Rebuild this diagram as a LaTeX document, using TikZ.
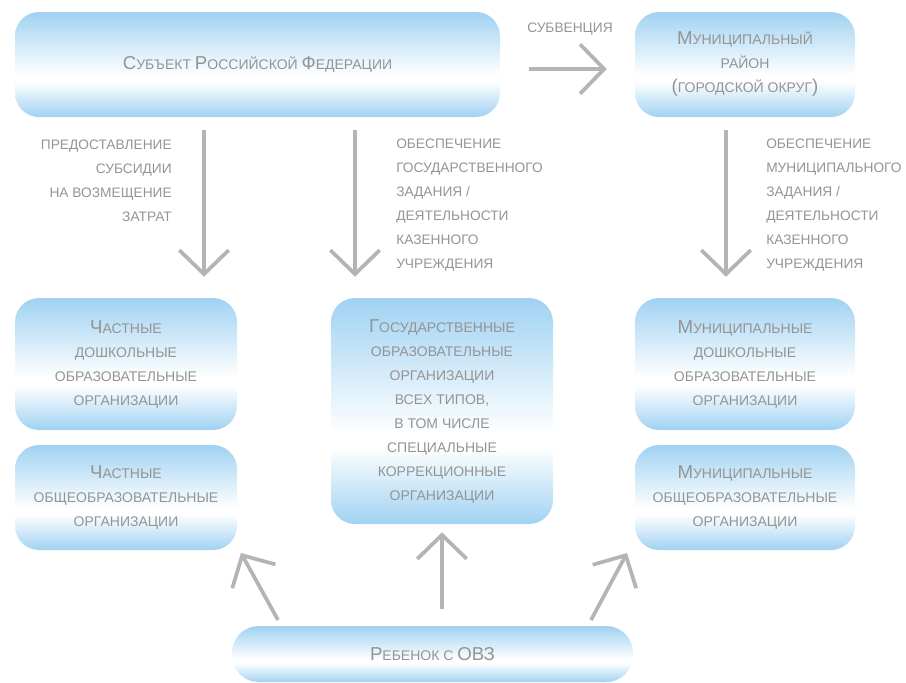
\documentclass[tikz,border=0pt]{standalone}
\usepackage{fontspec}
\setmainfont{Liberation Sans}
\usetikzlibrary{arrows.meta}
\definecolor{bx}{RGB}{160,210,242}
\definecolor{txt}{RGB}{148,148,148}
\definecolor{arrc}{RGB}{180,180,180}
\pgfdeclareverticalshading{boxsh}{100bp}{color(0bp)=(bx); color(25bp)=(bx); color(42bp)=(white); color(45bp)=(white); color(75bp)=(bx); color(100bp)=(bx)}
\newcommand\Ini[1]{{\fontsize{14}{18}\selectfont #1}}
\begin{document}
\begin{tikzpicture}[x=0.75pt,y=-0.75pt,
  box/.style={shading=boxsh, rounded corners=18pt, inner sep=0pt, align=center,
    text=txt, font=\fontsize{10.5}{18}\selectfont},
  lbl/.style={text=txt, font=\fontsize{10.3}{18}\selectfont, inner sep=0pt},
  conn/.style={draw=arrc, line width=2.8pt, -{Straight Barb[length=18pt,width=37pt]}}]
\useasboundingbox (0,0) rectangle (906,682);

% boxes
\node[box, minimum width=363.75pt, minimum height=78.75pt] (subj) at (257.5,64.5)
  {\Ini{С}УБЪЕКТ \Ini{Р}ОССИЙСКОЙ \Ini{Ф}ЕДЕРАЦИИ};
\node[box, minimum width=165pt, minimum height=78.75pt] (mun) at (745,64.5)
  {\Ini{М}УНИЦИПАЛЬНЫЙ\\РАЙОН\\\Ini{(}ГОРОДСКОЙ ОКРУГ\Ini{)}};
\node[box, minimum width=166.5pt, minimum height=99pt] (chd) at (126,364)
  {\Ini{Ч}АСТНЫЕ\\ДОШКОЛЬНЫЕ\\ОБРАЗОВАТЕЛЬНЫЕ\\ОРГАНИЗАЦИИ};
\node[box, minimum width=166.5pt, minimum height=78.75pt] (cho) at (126,497.5)
  {\Ini{Ч}АСТНЫЕ\\ОБЩЕОБРАЗОВАТЕЛЬНЫЕ\\ОРГАНИЗАЦИИ};
\node[box, minimum width=166.5pt, minimum height=169.5pt] (gos) at (442,411)
  {\Ini{Г}ОСУДАРСТВЕННЫЕ\\ОБРАЗОВАТЕЛЬНЫЕ\\ОРГАНИЗАЦИИ\\ВСЕХ ТИПОВ,\\В ТОМ ЧИСЛЕ\\СПЕЦИАЛЬНЫЕ\\КОРРЕКЦИОННЫЕ\\ОРГАНИЗАЦИИ};
\node[box, minimum width=165pt, minimum height=99pt] (mud) at (745,364)
  {\Ini{М}УНИЦИПАЛЬНЫЕ\\ДОШКОЛЬНЫЕ\\ОБРАЗОВАТЕЛЬНЫЕ\\ОРГАНИЗАЦИИ};
\node[box, minimum width=165pt, minimum height=78.75pt] (muo) at (745,497.5)
  {\Ini{М}УНИЦИПАЛЬНЫЕ\\ОБЩЕОБРАЗОВАТЕЛЬНЫЕ\\ОРГАНИЗАЦИИ};
\node[box, rounded corners=20pt, minimum width=300.75pt, minimum height=42pt] (reb) at (432.5,654)
  {\Ini{Р}ЕБЕНОК С \Ini{ОВЗ}};

% labels
\node[lbl] (lsub) at (570,29) {СУБВЕНЦИЯ};
\node[lbl, anchor=east, align=right] (l1) at (172,181)
  {ПРЕДОСТАВЛЕНИЕ\\СУБСИДИИ\\НА ВОЗМЕЩЕНИЕ\\ЗАТРАТ};
\node[lbl, anchor=west, align=left] (l2) at (396,205)
  {ОБЕСПЕЧЕНИЕ\\ГОСУДАРСТВЕННОГО\\ЗАДАНИЯ /\\ДЕЯТЕЛЬНОСТИ\\КАЗЕННОГО\\УЧРЕЖДЕНИЯ};
\node[lbl, anchor=west, align=left] (l3) at (766,205)
  {ОБЕСПЕЧЕНИЕ\\МУНИЦИПАЛЬНОГО\\ЗАДАНИЯ /\\ДЕЯТЕЛЬНОСТИ\\КАЗЕННОГО\\УЧРЕЖДЕНИЯ};

% helper coordinates
\coordinate (xL) at (204,0);
\coordinate (xM) at (355,0);
\coordinate (xR) at (726,0);
\coordinate (xU) at (442,0);
\coordinate (yS) at (0,69);
\coordinate (t1) at (278,620);
\coordinate (h1) at (241,553);
\coordinate (t2) at (591,620);
\coordinate (h2) at (627,553);

% connectors
\draw[conn, shorten <=21.75pt, shorten >=21pt] (subj.east |- yS) -- (mun.west |- yS);
\draw[conn, shorten <=9.75pt, shorten >=15.75pt] (subj.south -| xL) -- (chd.north -| xL);
\draw[conn, shorten <=9.75pt, shorten >=15.75pt] (subj.south -| xM) -- (gos.north -| xM);
\draw[conn, shorten <=9.75pt, shorten >=15.75pt] (mun.south -| xR) -- (mud.north -| xR);
\draw[conn, shorten <=12.75pt, shorten >=6pt] (reb.north -| xU) -- (gos.south -| xU);
\draw[conn] (t1) -- (h1);
\draw[conn] (t2) -- (h2);
\end{tikzpicture}
\end{document}
